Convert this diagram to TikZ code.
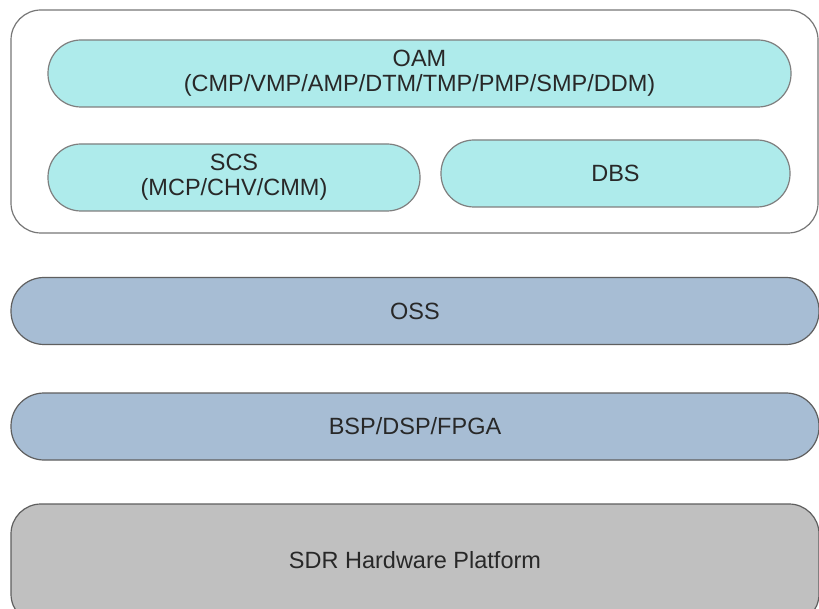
\documentclass[tikz,border=0pt]{standalone}
\usepackage{fontspec}
\setmainfont{Liberation Sans}
\usepackage{tikz}
\usetikzlibrary{calc}
\definecolor{appcyan}{RGB}{174,235,235}
\definecolor{osblue}{RGB}{167,189,212}
\definecolor{hwgray}{RGB}{192,192,192}
\definecolor{edgegray}{RGB}{95,95,95}
\definecolor{textgray}{RGB}{40,40,40}
\tikzset{
  layer/.style={draw=edgegray, line width=1.2pt, rounded corners=33pt, align=center,
    text=textgray, font=\fontsize{23.5}{25}\selectfont, minimum height=67pt, inner sep=0pt},
  applayer/.style={layer, fill=appcyan, draw=edgegray!80},
  oslayer/.style={layer, fill=osblue},
  hwlayer/.style={layer, fill=hwgray, rounded corners=30pt}
}
\begin{document}
\begin{tikzpicture}[x=1pt,y=-1pt]
            \clip (0,0) rectangle (819,609);
            \fill[white] (0,0) rectangle (819,609);
            \draw[draw=edgegray!85, line width=1.2pt, rounded corners=30pt] (11,10) rectangle (818,233);
            \node[applayer, minimum width=743pt] (oam) at (419.5,73.5) {OAM\\(CMP/VMP/AMP/DTM/TMP/PMP/SMP/DDM)};
            \node[applayer, minimum width=372pt] (scs) at (234,177.5) {SCS\\(MCP/CHV/CMM)};
            \node[applayer, minimum width=349pt] (dbs) at (615.5,173.5) {DBS};
            \node[oslayer, minimum width=808pt] (oss) at (415,311) {OSS};
            \node[oslayer, minimum width=808pt] (bsp) at (415,426.5) {BSP/DSP/FPGA};
            \node[hwlayer, minimum width=808pt, minimum height=120pt] (sdr) at (415,564) {\raisebox{8pt}{SDR Hardware Platform}};
\end{tikzpicture}
\end{document}
